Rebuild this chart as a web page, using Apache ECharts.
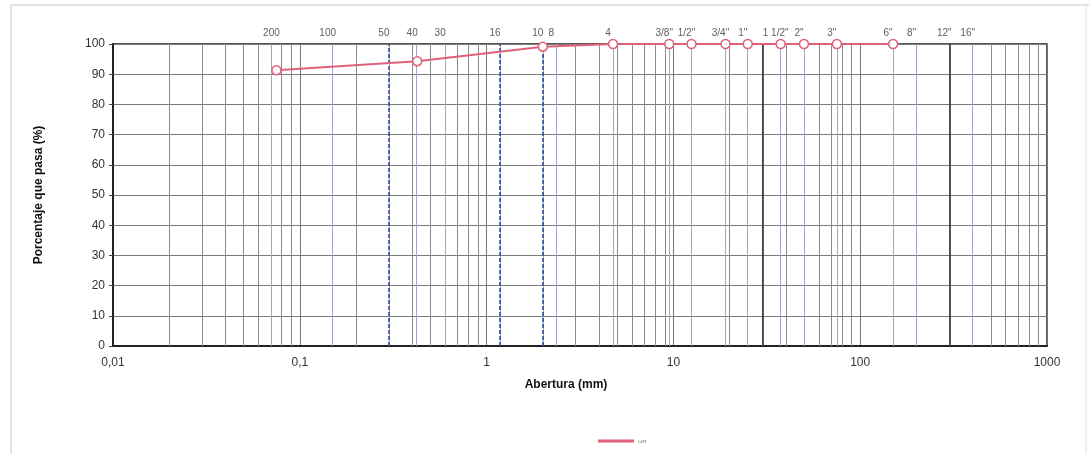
<!DOCTYPE html>
<html>
<head>
    <meta charset="utf-8">
    <title>Curva granulométrica</title>
    <script src="https://cdn.jsdelivr.net/npm/echarts@6/dist/echarts.min.js"></script>
    <style>
        html, body { margin: 0; padding: 0; background: #fff; }
        #chart { width: 1089px; height: 454px; }
    </style>
</head>
<body>
<div id="chart"></div>
<script type="text/javascript">
    // tamices (nombre y abertura en mm)
    var sieveNames = ['200', '100', '50', '40', '30', '16', '10', '8', '4', '3/8"', '1/2"', '3/4"',
        '1"', '1 1/2"', '2"', '3"', '6"', '8"', '12"', '16"'];
    var sieveSizes = [0.075, 0.15, 0.3, 0.425, 0.6, 1.18, 2, 2.36, 4.75, 9.5, 12.5, 19,
        25, 37.5, 50, 75, 150, 200, 300, 400];

    // ensayo: abertura (mm) y porcentaje que pasa
    var aberturas = [0.075, 0.425, 2, 4.75, 9.5, 12.5, 19, 25, 37.5, 50, 75, 150];
    var pasa = [91.3, 94.3, 99.1, 100, 100, 100, 100, 100, 100, 100, 100, 100];

    // lineas azules discontinuas
    var dashedLines = [0.3, 1.18, 2];
    // lineas oscuras
    var darkLines = [30, 300];

    var decades = [0.01, 0.1, 1, 10, 100];
    var minorGrid = [];
    decades.forEach(function (d) {
        for (var k = 2; k <= 9; k++) {
            minorGrid.push(+(d * k).toPrecision(6));
        }
    });

    var serieData = aberturas.map(function (a, i) { return [a, pasa[i]]; });
    var labelData = sieveSizes.map(function (s, i) { return [s, 100, sieveNames[i]]; });

    var markData = [];
    minorGrid.forEach(function (v) {
        markData.push({ xAxis: v, lineStyle: { color: '#8c8c8c', width: 1, type: 'solid' } });
    });
    sieveSizes.forEach(function (v) {
        markData.push({ xAxis: v, lineStyle: { color: '#9ea8c4', width: 1, type: 'solid' } });
    });
    darkLines.forEach(function (v) {
        markData.push({ xAxis: v, lineStyle: { color: '#333', width: 1.6, type: 'solid' } });
    });
    dashedLines.forEach(function (v) {
        markData.push({ xAxis: v, lineStyle: { color: '#2e4b9b', width: 1.6, type: [4, 2] } });
    });

    var myChart = echarts.init(document.getElementById('chart'), null, { renderer: 'canvas' });

    var font = 'Liberation Sans, Arial, sans-serif';

    var option = {
        backgroundColor: '#fff',
        animation: false,
        textStyle: { fontFamily: font },
        graphic: [
            { type: 'line', shape: { x1: 11, y1: 5, x2: 1089, y2: 5 }, style: { stroke: '#c4c4c4', lineWidth: 1 } },
            { type: 'line', shape: { x1: 11, y1: 5, x2: 11, y2: 454 }, style: { stroke: '#c4c4c4', lineWidth: 1 } },
            { type: 'line', shape: { x1: 1086, y1: 5, x2: 1086, y2: 454 }, style: { stroke: '#e2e2e2', lineWidth: 1 } }
        ],
        grid: {
            left: 113, right: 42, top: 44, bottom: 108,
            show: true, borderColor: '#222', borderWidth: 1.5
        },
        legend: {
            data: ['ωπ'],
            left: 593, top: 433,
            itemWidth: 34, itemHeight: 1, icon: 'rect',
            textStyle: { fontSize: 6, color: '#777' }
        },
        xAxis: {
            type: 'log', logBase: 10, min: 0.01, max: 1000,
            name: 'Abertura (mm)', nameLocation: 'middle', nameGap: 33,
            nameTextStyle: { fontSize: 12, fontWeight: 'bold', color: '#111', padding: [0, 28, 0, 0] },
            axisLine: { lineStyle: { color: '#222', width: 2 } },
            axisTick: { show: false },
            axisLabel: {
                color: '#333', fontSize: 12, margin: 11,
                formatter: function (v) { return String(v).replace('.', ','); }
            },
            splitLine: { show: true, lineStyle: { color: '#777', width: 1 } },
            minorTick: { show: false }
        },
        yAxis: {
            type: 'value', min: 0, max: 100, interval: 10,
            name: 'Porcentaje que pasa (%)', nameLocation: 'middle', nameGap: 68,
            nameTextStyle: { fontSize: 12, fontWeight: 'bold', color: '#111' },
            axisLine: { show: true, lineStyle: { color: '#222', width: 2 } },
            axisTick: { show: true, length: 4, lineStyle: { color: '#444' } },
            axisLabel: { color: '#333', fontSize: 12, margin: 8 },
            splitLine: { show: true, lineStyle: { color: '#7a7a7a', width: 1 } }
        },
        series: [
            {
                name: 'grid',
                type: 'line',
                data: [],
                silent: true,
                markLine: {
                    silent: true,
                    symbol: ['none', 'none'],
                    label: { show: false },
                    data: markData
                }
            },
            {
                name: 'tamices',
                type: 'scatter',
                data: labelData,
                symbolSize: 0,
                silent: true,
                label: {
                    show: true, position: 'top', distance: 6, offset: [-5, 0],
                    fontSize: 10, color: '#333',
                    formatter: function (p) { return p.data[2]; }
                }
            },
            {
                name: 'ωπ',
                type: 'line',
                data: serieData,
                color: '#e0607a',
                lineStyle: { color: '#e0607a', width: 2 },
                symbol: 'circle',
                symbolSize: 9,
                itemStyle: { color: '#fff', borderColor: '#e0607a', borderWidth: 1.5 },
                z: 5
            }
        ]
    };

    myChart.setOption(option);
    window.addEventListener('resize', myChart.resize);
</script>
</body>
</html>
